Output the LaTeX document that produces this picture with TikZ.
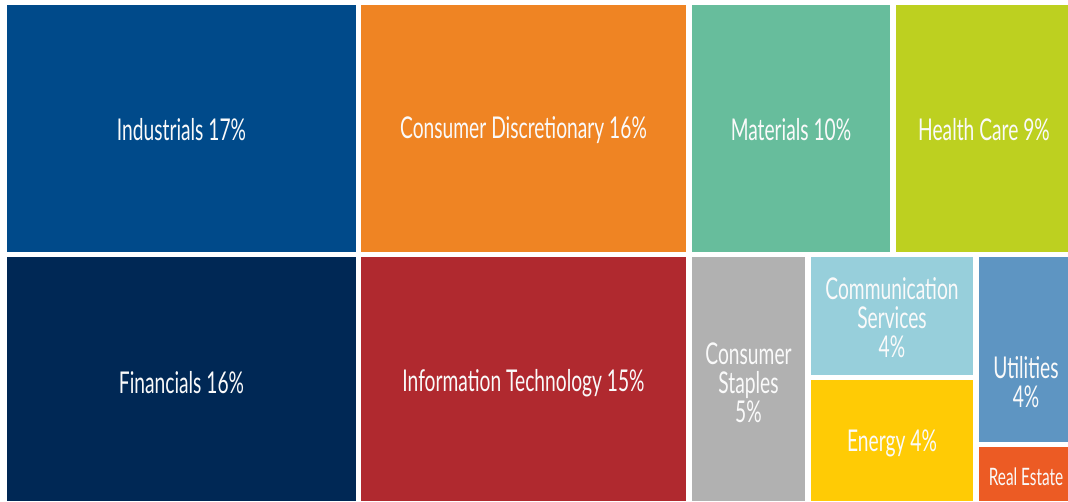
\documentclass[tikz,border=0pt]{standalone}
\usepackage{fontspec}
\setmainfont{Lato}[FakeStretch=0.64]
\definecolor{indcol}{HTML}{004A8A}
\definecolor{discol}{HTML}{EF8423}
\definecolor{matcol}{HTML}{67BD9C}
\definecolor{hltcol}{HTML}{BDD020}
\definecolor{fincol}{HTML}{002855}
\definecolor{itcol}{HTML}{B0292F}
\definecolor{stpcol}{HTML}{B1B1B1}
\definecolor{comcol}{HTML}{97CFDB}
\definecolor{enecol}{HTML}{FFCB05}
\definecolor{utlcol}{HTML}{5E95C2}
\definecolor{reacol}{HTML}{EC5B24}
\tikzset{
  sector/.style={text=white!96!gray, font=\fontsize{30}{29}\selectfont, align=center, inner sep=0pt},
  small sector/.style={sector, font=\fontsize{24}{26}\selectfont}
}
\begin{document}
\begin{tikzpicture}[x=1pt,y=1pt,yscale=-1]
  \useasboundingbox[fill=white] (0,0) rectangle (1068,501);
  % top row
  \fill[indcol] (7,5) rectangle (356,252);
  \fill[discol] (361,5) rectangle (686,252);
  \fill[matcol] (692,5) rectangle (890,252);
  \fill[hltcol] (896,5) rectangle (1068,252);
  % bottom row
  \fill[fincol] (7,257) rectangle (356,501);
  \fill[itcol] (361,257) rectangle (686,501);
  \fill[stpcol] (692,257) rectangle (805,501);
  \fill[comcol] (811,257) rectangle (973,375);
  \fill[enecol] (811,380) rectangle (973,501);
  \fill[utlcol] (979,257) rectangle (1068,442);
  \fill[reacol] (979,447) rectangle (1068,501);

  \node[sector] (ind) at (181.5,130) {Industrials 17\%};
  \node[sector] (dis) at (523.5,130) {Consumer Discretionary 16\%};
  \node[sector] (mat) at (791,130) {Materials 10\%};
  \node[sector] (hlt) at (984,130) {Health Care 9\%};
  \node[sector] (fin) at (181.5,383) {Financials 16\%};
  \node[sector] (it) at (523.5,383) {Information Technology 15\%};
  \node[sector] (stp) at (748.5,383) {Consumer\\Staples\\5\%};
  \node[sector] (com) at (892,318) {Communication\\Services\\4\%};
  \node[sector] (ene) at (892,443) {Energy 4\%};
  \node[sector] (utl) at (1026,382) {Utilities\\4\%};
  \node[small sector] (rea) at (1026,477) {Real Estate};
\end{tikzpicture}
\end{document}
